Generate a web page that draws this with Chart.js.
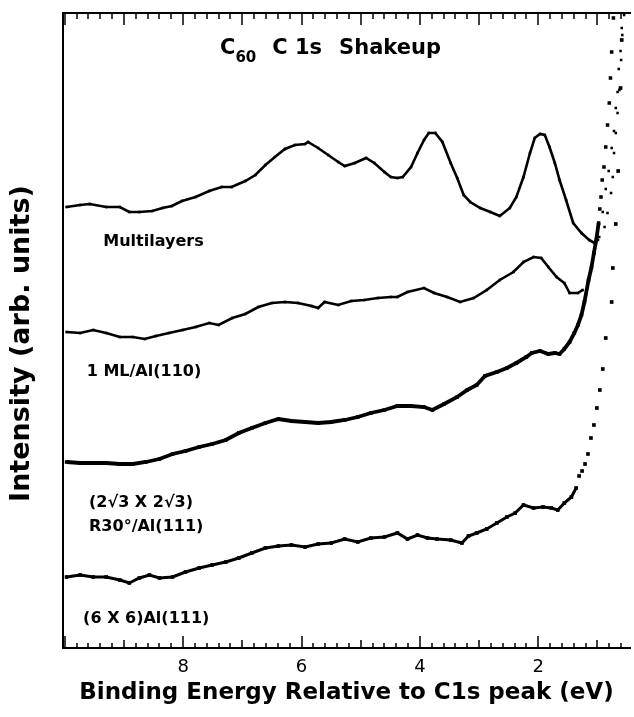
<!DOCTYPE html>
<html>
<head>
<meta charset="utf-8">
<script src="https://cdn.jsdelivr.net/npm/chart.js@4.4.1/dist/chart.umd.min.js"></script>
<style>
  html, body { margin: 0; padding: 0; background: #fff; }
  #wrap { width: 634px; height: 717px; }
</style>
</head>
<body>
<div id="wrap"><canvas id="shakeupChart"></canvas></div>
<script>
// ## C60 C 1s SHAKEUP SPECTRA ##

const fontFamily = "'DejaVu Sans', Verdana, sans-serif";

// binding energy (eV) and intensity (arb. units) for each film
const multiEnergy = [9.97, 9.74, 9.58, 9.30, 9.07, 8.91, 8.74, 8.52, 8.35, 8.19, 8.02, 7.79, 7.56, 7.35, 7.18, 6.95, 6.78, 6.61, 6.45, 6.28, 6.11, 5.94, 5.89, 5.72, 5.55, 5.38, 5.27, 5.10, 4.91, 4.77, 4.60, 4.49, 4.38, 4.29, 4.15, 4.04, 3.93, 3.85, 3.74, 3.62, 3.48, 3.37, 3.26, 3.15, 2.98, 2.81, 2.65, 2.48, 2.37, 2.25, 2.14, 2.06, 1.97, 1.89, 1.81, 1.72, 1.64, 1.53, 1.41, 1.27, 1.14, 1.05, 0.97, 0.88, 0.83, 0.77, 0.74, 0.72, 0.69, 0.66, 0.63, 0.60, 0.58, 0.55];
const multiIntensity = [441, 443, 444, 441, 441, 436, 436, 437, 440, 442, 447, 451, 457, 461, 461, 467, 473, 483, 491, 499, 503, 504, 506, 500, 493, 486, 482, 485, 490, 485, 476, 471, 470, 471, 481, 495, 508, 515, 515, 506, 485, 470, 453, 446, 440, 436, 432, 440, 451, 471, 495, 510, 514, 513, 501, 485, 468, 448, 425, 415, 408, 405, 411, 421, 435, 455, 471, 495, 515, 535, 558, 588, 613, 633];

const monoEnergy = [9.97, 9.74, 9.52, 9.30, 9.07, 8.85, 8.65, 8.46, 8.24, 8.01, 7.79, 7.56, 7.40, 7.17, 6.95, 6.73, 6.50, 6.28, 6.06, 5.83, 5.72, 5.61, 5.38, 5.16, 4.94, 4.71, 4.49, 4.38, 4.21, 3.93, 3.76, 3.54, 3.32, 3.09, 2.87, 2.65, 2.42, 2.25, 2.08, 1.95, 1.83, 1.69, 1.56, 1.47, 1.33, 1.25, 1.16, 1.11, 1.05, 0.99, 0.91, 0.86, 0.81, 0.76, 0.72, 0.69, 0.66, 0.64, 0.61, 0.59];
const monoIntensity = [316, 315, 318, 315, 311, 311, 309, 312, 315, 318, 321, 325, 323, 330, 334, 341, 345, 346, 345, 342, 340, 346, 343, 347, 348, 350, 351, 351, 356, 360, 355, 351, 346, 350, 358, 368, 376, 386, 391, 390, 381, 371, 365, 355, 355, 358, 366, 378, 395, 408, 436, 459, 477, 500, 517, 540, 556, 579, 597, 620];

const rootEnergy = [9.97, 9.74, 9.52, 9.30, 9.07, 8.85, 8.63, 8.40, 8.18, 7.96, 7.73, 7.51, 7.28, 7.06, 6.84, 6.61, 6.39, 6.17, 5.94, 5.72, 5.50, 5.27, 5.05, 4.83, 4.60, 4.38, 4.15, 3.93, 3.79, 3.59, 3.37, 3.20, 3.04, 2.90, 2.70, 2.53, 2.37, 2.20, 2.11, 1.97, 1.83, 1.72, 1.64, 1.56, 1.47, 1.39, 1.33, 1.27, 1.22, 1.15, 1.10, 1.06, 1.02, 0.98, 0.96, 0.94, 0.92, 0.89, 0.86, 0.83, 0.80, 0.78, 0.76, 0.73];
const rootIntensity = [186, 185, 185, 185, 184, 184, 186, 189, 194, 197, 201, 204, 208, 215, 220, 225, 229, 227, 226, 225, 226, 228, 231, 235, 238, 242, 242, 241, 238, 244, 251, 258, 263, 272, 276, 280, 285, 291, 295, 297, 294, 295, 294, 299, 306, 315, 323, 333, 346, 368, 381, 395, 408, 425, 439, 451, 468, 481, 501, 523, 545, 570, 596, 630];

const sixEnergy = [9.97, 9.74, 9.52, 9.30, 9.07, 8.91, 8.74, 8.57, 8.40, 8.18, 7.96, 7.73, 7.51, 7.28, 7.06, 6.84, 6.61, 6.39, 6.17, 5.94, 5.72, 5.50, 5.27, 5.05, 4.83, 4.60, 4.38, 4.21, 4.04, 3.87, 3.71, 3.48, 3.29, 3.18, 3.04, 2.87, 2.70, 2.53, 2.39, 2.25, 2.08, 1.92, 1.78, 1.67, 1.56, 1.44, 1.36, 1.31, 1.26, 1.21, 1.16, 1.11, 1.06, 1.01, 0.96, 0.91, 0.86, 0.76, 0.74, 0.69, 0.65, 0.61, 0.59];
const sixIntensity = [71, 73, 71, 71, 68, 65, 70, 73, 70, 71, 76, 80, 83, 86, 90, 95, 100, 102, 103, 101, 104, 105, 109, 106, 110, 111, 115, 109, 113, 110, 109, 108, 105, 112, 115, 119, 125, 131, 135, 143, 140, 141, 140, 138, 145, 151, 160, 172, 177, 184, 194, 210, 223, 240, 258, 279, 310, 346, 380, 424, 477, 560, 608];

const xTickValues = [2, 4, 6, 8];

// text next to each curve: lines, energy of the left edge, intensity of the first baseline
const curveLabels = [
  { lines: ["Multilayers"], energy: 9.35, intensity: 402 },
  { lines: ["1 ML/Al(110)"], energy: 9.63, intensity: 272 },
  { lines: ["(2\u221A3 X 2\u221A3)", "R30\u00B0/Al(111)"], energy: 9.59, intensity: 141 },
  { lines: ["(6 X 6)Al(111)"], energy: 9.69, intensity: 25 },
];

function toPoints(energy, intensity) {
  return energy.map((e, i) => ({ x: e, y: intensity[i] }));
}

// the steep C 1s flank is drawn as bare points, the rest as a dense trace
function spectrum(label, energy, intensity, size, lineWidth, flankBelow) {
  return {
    label: label,
    data: toPoints(energy, intensity),
    showLine: true,
    borderColor: "#000",
    backgroundColor: "#000",
    borderWidth: lineWidth,
    pointStyle: "rect",
    pointRadius: size,
    pointBorderWidth: 0,
    tension: 0,
    segment: {
      borderColor: (ctx) =>
        Math.min(ctx.p0.parsed.x, ctx.p1.parsed.x) < flankBelow ? "rgba(0,0,0,0)" : undefined,
    },
  };
}

// inward minor/major ticks on the bottom and top edges
const frameTicks = {
  id: "frameTicks",
  afterDraw(chart) {
    const { ctx, chartArea } = chart;
    const xs = chart.scales.x;
    ctx.save();
    ctx.strokeStyle = "#000";
    ctx.lineWidth = 1.5;
    ctx.beginPath();
    for (let i = 1; i <= 50; i++) {
      const v = i / 5;
      if (v < xs.min || v > xs.max) continue;
      const px = Math.round(xs.getPixelForValue(v));
      const bottomLen = i % 10 === 0 ? 12 : i % 5 === 0 ? 8 : 5;
      const topLen = i % 5 === 0 ? 12 : 6;
      ctx.moveTo(px, chartArea.bottom);
      ctx.lineTo(px, chartArea.bottom - bottomLen);
      ctx.moveTo(px, chartArea.top);
      ctx.lineTo(px, chartArea.top + topLen);
    }
    ctx.stroke();
    ctx.restore();
  },
};

// title with subscript, y axis title and the names of the films
const spectrumText = {
  id: "spectrumText",
  afterDraw(chart) {
    const { ctx, chartArea } = chart;
    const xs = chart.scales.x;
    const ys = chart.scales.y;
    ctx.save();
    ctx.fillStyle = "#000";
    ctx.textAlign = "left";
    ctx.textBaseline = "alphabetic";

    let x = chartArea.left + 157;
    const y = chartArea.top + 41;
    ctx.font = "bold 21px " + fontFamily;
    ctx.fillText("C", x, y);
    x += ctx.measureText("C").width;
    ctx.font = "bold 15px " + fontFamily;
    ctx.fillText("60", x, y + 8);
    x += ctx.measureText("60").width + 16;
    ctx.font = "bold 21px " + fontFamily;
    ctx.fillText("C 1s", x, y);
    x += ctx.measureText("C 1s").width + 17;
    ctx.fillText("Shakeup", x, y);

    ctx.font = "bold 16px " + fontFamily;
    curveLabels.forEach((lab) => {
      const lx = xs.getPixelForValue(lab.energy);
      const ly = ys.getPixelForValue(lab.intensity);
      lab.lines.forEach((line, i) => ctx.fillText(line, lx, ly + i * 23.5));
    });

    // y axis title, centred a little below the middle of the frame
    ctx.translate(22, (chartArea.top + chartArea.bottom) / 2 + 13);
    ctx.rotate(-Math.PI / 2);
    ctx.textAlign = "center";
    ctx.textBaseline = "middle";
    ctx.font = "bold 27px " + fontFamily;
    ctx.fillText("Intensity (arb. units)", 0, 0);
    ctx.restore();
  },
};

const ctx = document.getElementById("shakeupChart").getContext("2d");

window.shakeupChart = new Chart(ctx, {
  type: "scatter",
  data: {
    datasets: [
      spectrum("Multilayers", multiEnergy, multiIntensity, 1.8, 2.6, 1.0),
      spectrum("1 ML/Al(110)", monoEnergy, monoIntensity, 1.8, 2.6, 1.2),
      spectrum("(2\u221A3 X 2\u221A3) R30\u00B0/Al(111)", rootEnergy, rootIntensity, 2.5, 3.8, 0.97),
      spectrum("(6 X 6)Al(111)", sixEnergy, sixIntensity, 2.6, 3.0, 1.34),
    ],
  },
  options: {
    responsive: true,
    maintainAspectRatio: false,
    animation: false,
    events: [],
    layout: { padding: 0 },
    plugins: {
      legend: { display: false },
      tooltip: { enabled: false },
    },
    scales: {
      x: {
        type: "linear",
        position: "bottom",
        reverse: true,
        min: 0.45,
        max: 10.03,
        afterBuildTicks: (scale) => {
          scale.ticks = xTickValues.map((v) => ({ value: v }));
        },
        afterFit: (scale) => {
          scale.height = 69;
        },
        grid: { display: false, drawTicks: false },
        border: { display: true, color: "#000", width: 2 },
        ticks: {
          color: "#000",
          padding: 9,
          maxRotation: 0,
          font: { family: fontFamily, size: 18 },
        },
        title: {
          display: true,
          text: "Binding Energy Relative to C1s peak (eV)",
          color: "#000",
          font: { family: fontFamily, size: 23, weight: "bold" },
          padding: { top: 0, bottom: 10 },
        },
      },
      xTop: {
        type: "linear",
        position: "top",
        reverse: true,
        min: 0.45,
        max: 10.03,
        afterFit: (scale) => {
          scale.height = 13;
        },
        grid: { display: false, drawTicks: false },
        border: { display: true, color: "#000", width: 2 },
        ticks: { display: false },
      },
      y: {
        type: "linear",
        position: "left",
        min: 0,
        max: 635,
        afterFit: (scale) => {
          scale.width = 63;
        },
        grid: { display: false, drawTicks: false },
        border: { display: true, color: "#000", width: 2 },
        ticks: { display: false },
      },
    },
  },
  plugins: [frameTicks, spectrumText],
});
</script>
</body>
</html>
